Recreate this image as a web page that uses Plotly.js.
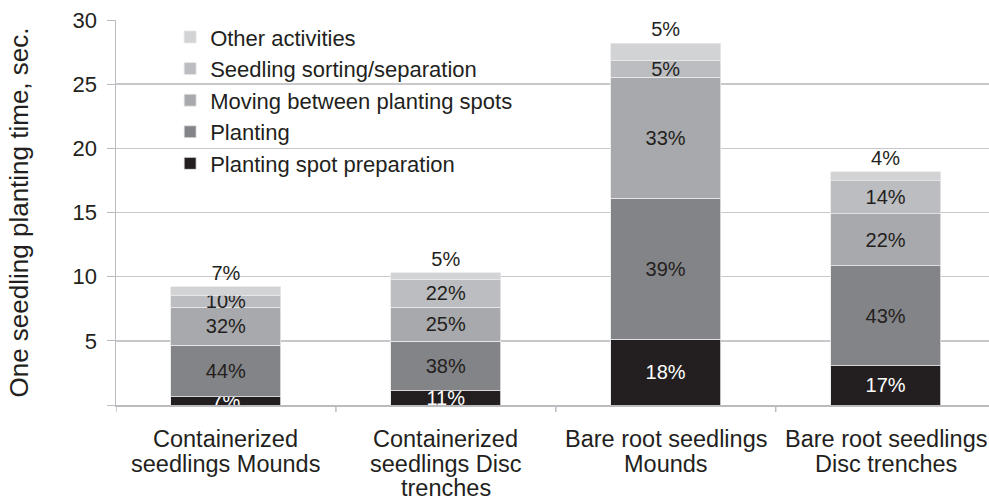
<!DOCTYPE html>
<html>
<head>
<meta charset="utf-8">
<script src="https://cdn.plot.ly/plotly-3.0.1.min.js"></script>
<style>html,body{margin:0;padding:0;background:#fff;}#chart{width:989px;height:500px;}</style>
</head>
<body>
<div id="chart"></div>
<script>
const categories = [
  "Containerized<br>seedlings Mounds",
  "Containerized<br>seedlings Disc<br>trenches",
  "Bare root seedlings<br>Mounds",
  "Bare root seedlings<br>Disc trenches"
];
const seriesNames = [
  "Planting spot preparation",
  "Planting",
  "Moving between planting spots",
  "Seedling sorting/separation",
  "Other activities"
];
// seconds per seedling
const spotPrep   = [0.65, 1.11, 5.14, 3.06];
const planting   = [4.02, 3.87, 10.99, 7.78];
const moving     = [2.96, 2.62, 9.42, 4.05];
const sorting    = [0.92, 2.20, 1.30, 2.57];
const other      = [0.65, 0.50, 1.35, 0.70];
// percentage labels shown in the chart
const spotPrepPct = ["7%", "11%", "18%", "17%"];
const plantingPct = ["44%", "38%", "39%", "43%"];
const movingPct   = ["32%", "25%", "33%", "22%"];
const sortingPct  = ["10%", "22%", "5%", "14%"];
const otherPct    = ["7%", "5%", "5%", "4%"];
const yTicks = [0, 5, 10, 15, 20, 25, 30];
const yTickText = ["", "5", "10", "15", "20", "25", "30"];

const colors = ["#231f20", "#838487", "#a8a9ac", "#bcbdc0", "#d2d3d5"];
const values = [spotPrep, planting, moving, sorting, other];
const labels = [spotPrepPct, plantingPct, movingPct, sortingPct, otherPct];
const FONT = "Liberation Sans, Arial, sans-serif";
const TXT = "#231f20";

const traces = values.map((v, i) => ({
  type: "bar",
  name: seriesNames[i],
  x: [0, 1, 2, 3],
  y: v,
  text: labels[i],
  textposition: i === 4 ? "outside" : "inside",
  insidetextanchor: "middle",
  constraintext: "none",
  textangle: 0,
  cliponaxis: false,
  textfont: {family: FONT, size: 20, color: i === 0 ? "#ffffff" : TXT},
  outsidetextfont: {family: FONT, size: 20, color: TXT},
  marker: {color: colors[i], line: {color: "#e8e8ea", width: 0.8}},
  hoverinfo: "skip"
}));

// category labels, one annotation per text line
const annotations = [];
categories.forEach((c, ci) => {
  c.split("<br>").forEach((line, li) => {
    annotations.push({
      text: line, xref: "x", yref: "y", x: ci, y: 0,
      xanchor: "center", yanchor: "top", yshift: -19 - li * 24.5,
      showarrow: false,
      font: {family: FONT, size: 23.5, color: TXT}
    });
  });
});

const layout = {
  width: 989, height: 500,
  margin: {l: 116, r: 0, t: 20, b: 95},
  paper_bgcolor: "#ffffff",
  plot_bgcolor: "#ffffff",
  barmode: "stack",
  bargap: 0.5,
  font: {family: FONT, size: 20, color: TXT},
  showlegend: true,
  legend: {
    x: 0.062, y: 1.01, xanchor: "left", yanchor: "top",
    traceorder: "reversed",
    font: {family: FONT, size: 22, color: TXT},
    bgcolor: "rgba(0,0,0,0)",
    tracegroupgap: 0,
    itemwidth: 30
  },
  xaxis: {
    type: "linear",
    range: [-0.5, 3.47],
    tickvals: [0, 1, 2, 3],
    ticktext: ["", "", "", ""],
    ticks: "",
    showgrid: false,
    zeroline: false,
    showline: true,
    linecolor: "#bcbcc0",
    linewidth: 1.5
  },
  yaxis: {
    range: [0, 30],
    tickvals: yTicks,
    ticktext: yTickText,
    ticks: "outside",
    ticklen: 8,
    ticklabelstandoff: 5,
    tickcolor: "#bcbcc0",
    showline: true,
    linecolor: "#bcbcc0",
    linewidth: 1.5,
    showgrid: true,
    gridcolor: "#c8c8cc",
    gridwidth: 1.5,
    zeroline: false,
    tickfont: {family: FONT, size: 22, color: TXT},
    title: {text: "One seedling planting time, sec.", font: {family: FONT, size: 26, color: TXT}, standoff: 36}
  },
  annotations: annotations,
  shapes: [-0.5, 0.5, 1.5, 2.5].map(xv => ({
    type: "line", xref: "x", yref: "paper", x0: xv, x1: xv, y0: 0, y1: -0.018,
    line: {color: "#bcbcc0", width: 1.5}
  }))
};

Plotly.newPlot("chart", traces, layout, {displayModeBar: false, staticPlot: true});
</script>
</body>
</html>
